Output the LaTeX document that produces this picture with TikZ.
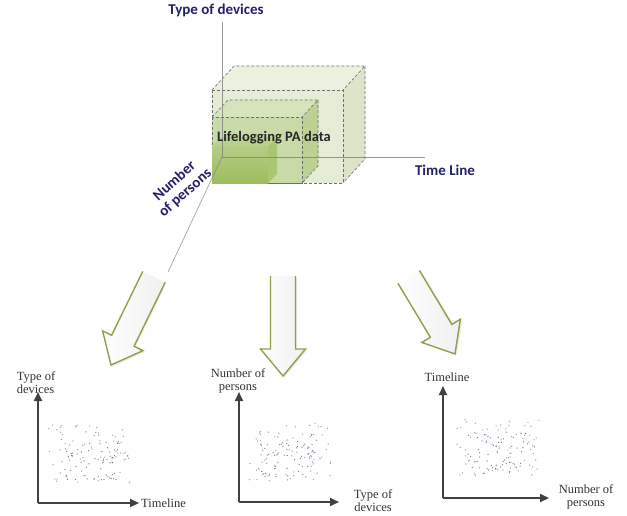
\documentclass[tikz,border=0pt]{standalone}
\usepackage{fontspec}
\setmainfont{Liberation Serif}
\newfontfamily\calibri{Carlito}
\usetikzlibrary{arrows.meta}
\definecolor{axisnavy}{HTML}{22206A}
\definecolor{boxedge}{HTML}{6E6E6E}
\definecolor{arrowgreen}{HTML}{8CA24A}
\definecolor{bigfront}{HTML}{E4ECD5}
\definecolor{bigtop}{HTML}{EBF1DF}
\definecolor{bigside}{HTML}{DCE5CA}
\definecolor{midfront}{HTML}{C8DAA7}
\definecolor{midtop}{HTML}{D6E4BD}
\definecolor{midside}{HTML}{BCD193}
\definecolor{smallfront}{HTML}{9DBC5E}
\definecolor{smallside}{HTML}{A9C672}
\definecolor{dotblue}{HTML}{50507A}

\begin{document}
\begin{tikzpicture}[
    x=1pt, y=-1pt,
    axislabel/.style={font=\calibri\bfseries\fontsize{15}{15}\selectfont, text=axisnavy, inner sep=1pt},
    datalabel/.style={font=\calibri\bfseries\fontsize{14.5}{15}\selectfont, text=black!85, inner sep=1pt},
    plotlabel/.style={font=\fontsize{12.5}{13}\selectfont, text=black!80, inner sep=0pt},
    cubeedge/.style={draw=boxedge, dash pattern=on 3pt off 2pt, line width=0.6pt},
    axisline/.style={draw=gray, line width=0.6pt, draw opacity=0.8},
    plotaxis/.style={draw=black!75, line width=1.8pt, -{Triangle[length=9pt,width=8pt]}},
    blockarrow/.style={draw=arrowgreen, line width=1.4pt, line join=miter}
]
\useasboundingbox (0,0) rectangle (627,515);

% Data cube: outer box
\fill[bigfront] (212,90) rectangle (343,183);
\fill[bigtop] (212,90) -- (343,90) -- (365,66) -- (234,66) -- cycle;
\fill[bigside] (343,90) -- (365,66) -- (365,159) -- (343,183) -- cycle;
\draw[cubeedge] (212,90) rectangle (343,183);
\draw[cubeedge] (212,90) -- (234,66) -- (365,66) -- (343,90);
\draw[cubeedge] (365,66) -- (365,159) -- (343,183);

% Data cube: middle box
\fill[midfront] (212,117) rectangle (302,183);
\fill[midtop] (212,117) -- (302,117) -- (318,100) -- (228,100) -- cycle;
\fill[midside] (302,117) -- (318,100) -- (318,166) -- (302,183) -- cycle;
\draw[cubeedge] (212,117) rectangle (302,183);
\draw[cubeedge] (212,117) -- (228,100) -- (318,100) -- (302,117);
\draw[cubeedge] (318,100) -- (318,166) -- (302,183);

% Data cube: inner box
\shade[top color=smallfront!75!white, bottom color=smallfront] (212,146) rectangle (268,183);
\fill[smallside] (268,146) -- (277,137) -- (277,174) -- (268,183) -- cycle;
\fill[smallfront!70!white] (212,146) -- (268,146) -- (277,137) -- (221,137) -- cycle;

% 3D axes
\coordinate (O) at (222,157);
\coordinate (devTop) at (222,22);
\coordinate (timeEnd) at (425,157);
\coordinate (persEnd) at (168,272);
\draw[axisline] (O) -- (devTop);
\draw[axisline] (O) -- (timeEnd);
\draw[axisline] (O) -- (persEnd);

\node[axislabel] (devices) at (216,10) {Type of devices};
\node[axislabel] (timeline) at (445,170) {Time Line};
\node[axislabel, rotate=42, align=center] (persons) at (180,187) {Number\\[1pt]of persons};
\node[datalabel] (padata) at (274,138) {Lifelogging PA data};

% Block arrows
\foreach \tx/\ty/\ang/\len in {111/365/-26/98, 283/376/0/100, 455/354/31/90}{
  \begin{scope}[shift={(\tx,\ty)}, rotate=\ang]
    \fill[gray!30, opacity=0.5, shift={(1.5,1.5)}] (-12.5,-\len) -- (-12.5,-27) -- (-22.5,-27) -- (0,0) -- (22.5,-27) -- (12.5,-27) -- (12.5,-\len) -- cycle;
    \shade[left color=white, right color=gray!12] (-12.5,-\len) -- (-12.5,-27) -- (-22.5,-27) -- (0,0) -- (22.5,-27) -- (12.5,-27) -- (12.5,-\len) -- cycle;
    \draw[blockarrow] (-12.5,-\len) -- (-12.5,-27) -- (-22.5,-27) -- (0,0) -- (22.5,-27) -- (12.5,-27) -- (12.5,-\len);
  \end{scope}
}

% Plot 1: devices vs timeline
\coordinate (o1) at (38,503);
\coordinate (y1) at (38,392);
\coordinate (x1) at (139,503);
\draw[plotaxis] (o1) -- (y1);
\draw[plotaxis] (o1) -- (x1);
\node[plotlabel, align=left] (p1y) at (36,383) {Type of\\devices};
\node[plotlabel, anchor=west] (p1x) at (141,503) {Timeline};

% Plot 2: persons vs devices
\coordinate (o2) at (239,502);
\coordinate (y2) at (239,392);
\coordinate (x2) at (339,502);
\draw[plotaxis] (o2) -- (y2);
\draw[plotaxis] (o2) -- (x2);
\node[plotlabel, align=center] (p2y) at (238,381) {Number of\\persons};
\node[plotlabel, align=center] (p2x) at (373,501) {Type of\\devices};

% Plot 3: timeline vs persons
\coordinate (o3) at (443,498);
\coordinate (y3) at (443,386);
\coordinate (x3) at (549,498);
\draw[plotaxis] (o3) -- (y3);
\draw[plotaxis] (o3) -- (x3);
\node[plotlabel] (p3y) at (447,377) {Timeline};
\node[plotlabel, align=center] (p3x) at (586,497) {Number of\\persons};

% Scatter points
\pgfmathsetseed{17}
\foreach \cx/\cy in {89/454, 290/452, 498/448}{
  \foreach \i in {1,...,70}{
    \pgfmathsetmacro{\px}{\cx+41*rand}
    \pgfmathsetmacro{\py}{\cy+29*rand}
    \fill[gray!75] (\px,\py) circle (0.7pt);
  }
  \foreach \i in {1,...,60}{
    \pgfmathsetmacro{\px}{\cx+30*rand}
    \pgfmathsetmacro{\py}{\cy+4+22*rand}
    \fill[dotblue!80] (\px,\py) circle (0.65pt);
  }
}

\end{tikzpicture}
\end{document}
